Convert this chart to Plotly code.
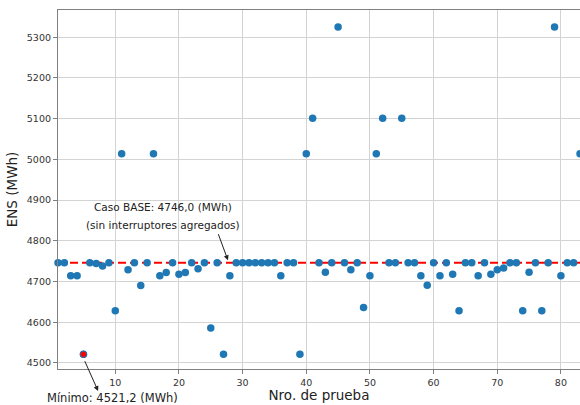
import plotly.graph_objects as go

prueba = list(range(1, 84))
ens = [4746, 4746, 4714, 4714, 4521.2, 4746, 4744, 4738, 4746, 4628,
       5014, 4729, 4746, 4690, 4746, 5014, 4714, 4722, 4746, 4718,
       4722, 4746, 4731, 4746, 4586, 4746, 4521.2, 4714, 4746, 4746,
       4746, 4746, 4746, 4746, 4746, 4714, 4746, 4746, 4521.2, 5014,
       5101, 4746, 4723, 4746, 5325, 4746, 4729, 4746, 4636, 4714,
       5014, 5101, 4746, 4746, 5101, 4746, 4746, 4714, 4691, 4746,
       4714, 4746, 4718, 4628, 4746, 4746, 4714, 4746, 4718, 4729,
       4733, 4746, 4746, 4628, 4723, 4746, 4628, 4746, 5325, 4714,
       4746, 4746, 5014]
caso_base = 4746.0
x_ticks = [10, 20, 30, 40, 50, 60, 70, 80]
y_ticks = [4500, 4600, 4700, 4800, 4900, 5000, 5100, 5200, 5300]

i_min = ens.index(min(ens))
x_min, y_min = prueba[i_min], ens[i_min]

fig = go.Figure()
fig.add_trace(go.Scatter(
    x=[prueba[0], prueba[-1] + 5], y=[caso_base, caso_base], mode="lines",
    line=dict(color="#ff0000", width=2, dash="8px,4px"), hoverinfo="skip",
    showlegend=False))
fig.add_trace(go.Scatter(
    x=prueba, y=ens, mode="markers",
    marker=dict(color="#1f77b4", size=7.5, line=dict(width=0)),
    showlegend=False, cliponaxis=False))
fig.add_trace(go.Scatter(
    x=[x_min], y=[y_min], mode="markers",
    marker=dict(color="#ff0000", size=6.5, line=dict(color="#1f77b4", width=1)),
    showlegend=False))

font = "DejaVu Sans"
txt = dict(family=font, size=10.5, color="#222")
fig.add_annotation(x=17.5, y=4882, xref="x", yref="y",
                   text="Caso BASE: 4746,0 (MWh)", showarrow=False, font=txt)
fig.add_annotation(x=17.5, y=4840, xref="x", yref="y",
                   text="(sin interruptores agregados)", showarrow=False, font=txt)
fig.add_annotation(x=27.7, y=4752, ax=26.1, ay=4820, xref="x", yref="y",
                   axref="x", ayref="y", text="", showarrow=True,
                   arrowhead=2, arrowsize=1, arrowwidth=1, arrowcolor="#222")
fig.add_annotation(x=7.3, y=4431, ax=5.1, ay=4508, xref="x", yref="y",
                   axref="x", ayref="y", text="", showarrow=True,
                   arrowhead=2, arrowsize=1, arrowwidth=1, arrowcolor="#222")
fig.add_annotation(x=9.6, y=-0.082, xref="x", yref="paper", yanchor="middle",
                   text="Mínimo: 4521,2 (MWh)", showarrow=False,
                   font=dict(family=font, size=11.5, color="#222"))

axis_common = dict(showgrid=True, gridcolor="#d3d3d3", gridwidth=1,
                   showline=True, linecolor="#808080", linewidth=1.2, mirror=True,
                   ticks="outside", ticklen=4, tickcolor="#808080",
                   tickfont=dict(family=font, size=9.5, color="#333"),
                   zeroline=False)
fig.update_xaxes(range=[1, 83], tickvals=x_ticks, **axis_common,
                 title=dict(text="Nro. de prueba", font=dict(family=font, size=13.5, color="#222"),
                            standoff=1))
fig.update_yaxes(range=[4485, 5367], tickvals=y_ticks, **axis_common,
                 title=dict(text="ENS (MWh)", font=dict(family=font, size=13.5, color="#222"),
                            standoff=6))
fig.update_layout(width=580, height=405, margin=dict(l=58, r=0, t=10, b=36, autoexpand=False),
                  plot_bgcolor="white", paper_bgcolor="white")
fig.write_html("out.html", config={"displayModeBar": False},
               post_script="document.body.style.margin='0';document.body.style.overflow='hidden';")
